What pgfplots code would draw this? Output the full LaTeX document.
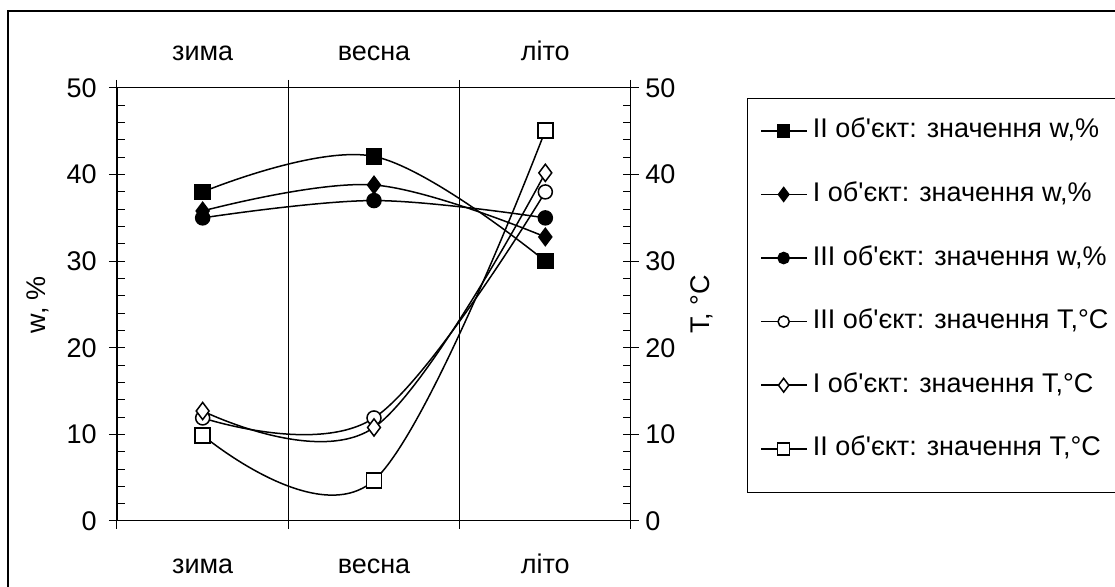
\documentclass[border=0pt]{standalone}
\usepackage{fontspec}
\setmainfont{Liberation Sans}[Ligatures=TeXOff]
\usepackage{pgfplots}
\pgfplotsset{compat=1.18}

\pgfplotsset{
  common/.style={
    scale only axis, width=257pt, height=216.5pt,
    at={(58.5pt,33pt)}, anchor=south west,
    xmin=0, xmax=3, ymin=0, ymax=50,
    ytick={0,10,...,50}, minor y tick num=4,
    tick align=center, major tick length=8pt, minor tick length=4pt,
    axis line style={line width=0.5pt},
    tick style={line width=0.5pt, black},
    ticklabel style={font=\fontsize{13.5}{16}\selectfont},
    label style={font=\fontsize{13.5}{16}\selectfont},
    /pgf/number format/assume math mode=true,
  },
  wline/.style={black, line width=0.75pt, smooth, tension=0.6, mark size=3.75pt},
}

\begin{document}
\begin{tikzpicture}
\path[use as bounding box] (0,0) rectangle (557.5pt,293.5pt);
\clip (0,0) rectangle (557.5pt,293.5pt);
\draw[line width=0.75pt] (4pt,-20pt) rectangle (580pt,288pt);
\draw[line width=0.5pt] (373.5pt,47pt) rectangle (580pt,244pt);

% left axis: w, %
\begin{axis}[common,
    xtick={0,1,2,3}, xticklabels={,,,},
    xmajorgrids, grid style={line width=0.5pt, black},
    extra x ticks={0.5,1.5,2.5},
    extra x tick labels={зима,весна,літо},
    extra x tick style={grid=none, major tick length=0pt},
    xtick pos=both, xticklabel pos=left,
    xticklabel style={anchor=base, inner sep=0pt, yshift=-26.5pt},
    ytick pos=left, yticklabel pos=left,
    yticklabel style={anchor=east, inner sep=0pt, xshift=-6pt},
    minor y tick style={xshift=2pt},
    ylabel={w, \%},
    ylabel style={at={(axis description cs:-0.154,0.5)}, anchor=center},
  ]
  \addplot[wline, mark=square*] coordinates {(0.5,38.0) (1.5,42.1) (2.5,30.0)};
  \addplot[wline, mark=diamond*, mark size=4.3pt] coordinates {(0.5,35.8) (1.5,38.8) (2.5,32.8)};
  \addplot[wline, mark=*, mark size=3.5pt] coordinates {(0.5,35.0) (1.5,37.0) (2.5,35.0)};
\end{axis}

% right axis: T, °C
\begin{axis}[common,
    xtick={0.5,1.5,2.5}, xticklabels={зима,весна,літо},
    xtick pos=right, xticklabel pos=right,
    xtick style={draw=none},
    xticklabel style={anchor=base, inner sep=0pt, yshift=9.5pt},
    ytick pos=right, yticklabel pos=right,
    yticklabel style={anchor=west, inner sep=0pt, xshift=3pt},
    minor y tick style={xshift=-2pt},
    ylabel={T, °C},
    ylabel style={at={(axis description cs:1.138,0.5)}, anchor=center},
    legend cell align=left,
    legend style={at={(axis description cs:1.251,0.932)}, anchor=north west,
      draw=none, fill=none, inner sep=0pt, row sep=18.8pt, column sep=3pt,
      font=\fontsize{13.5}{16}\selectfont,
      nodes={inner sep=0pt, text height=10pt, text depth=3pt}},
    legend image code/.code={\draw[mark repeat=2, mark phase=2, #1,
      /tikz/every mark/.append style={scale=0.8}]
      plot coordinates {(0pt,0pt) (11.25pt,0pt) (22.5pt,0pt)};},
  ]
  \addlegendimage{wline, mark=square*}
  \addlegendentry{II об'єкт: значення w,\%}
  \addlegendimage{wline, mark=diamond*, mark size=4.3pt}
  \addlegendentry{I об'єкт: значення w,\%}
  \addlegendimage{wline, mark=*, mark size=3.5pt}
  \addlegendentry{III об'єкт: значення w,\%}
  \addplot[wline, mark=*, mark size=3.5pt, mark options={fill=white}]
    coordinates {(0.5,11.9) (1.5,11.9) (2.5,38.0)};
  \addlegendentry{III об'єкт: значення T,°C}
  \addplot[wline, mark=diamond*, mark size=4.3pt, mark options={fill=white}]
    coordinates {(0.5,12.7) (1.5,10.8) (2.5,40.2)};
  \addlegendentry{I об'єкт: значення T,°C}
  \addplot[wline, mark=square*, mark options={fill=white}]
    coordinates {(0.5,9.9) (1.5,4.7) (2.5,45.1)};
  \addlegendentry{II об'єкт: значення T,°C}
\end{axis}
\end{tikzpicture}
\end{document}
